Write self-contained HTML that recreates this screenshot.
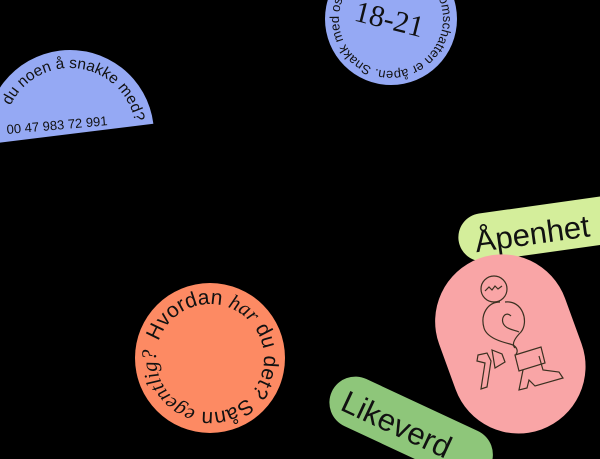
<!DOCTYPE html>
<html><head><meta charset="utf-8"><style>
html,body{margin:0;padding:0;background:#000;width:600px;height:459px;overflow:hidden}
svg{display:block}
text{font-family:"Liberation Sans",sans-serif;fill:#111}
</style></head><body>
<svg width="600" height="459" viewBox="0 0 600 459">
<defs>
<path id="semi" d="M 4,134 A 66 66 0 0 1 136,134"/>
<path id="blueC" d="M 391,-33 A 52 52 0 1 1 390.9,-33"/>
<path id="orC" d="M 210,304 A 54 54 0 1 1 209.9,304"/>
</defs>
<!-- semicircle -->
<g transform="rotate(-7 70 134)">
<path d="M -14,134 A 84 84 0 0 1 154,134 Z" fill="#95a9f4"/>
<text font-size="15.5" text-anchor="end"><textPath href="#semi" startOffset="98%">du noen å snakke med?</textPath></text>
</g>
<text x="7" y="134" font-size="13" transform="rotate(-5 7 134)">00 47 983 72 991</text>
<!-- blue circle -->
<circle cx="391" cy="19" r="66" fill="#95a9f4"/>
<g transform="rotate(32 391 19)">
<text font-size="13"><textPath href="#blueC" startOffset="0">Ungdomschatten er åpen. Snakk med oss</textPath></text>
</g>
<text x="354" y="28" font-size="30" transform="rotate(14 385 20)" style="font-family:'Liberation Serif',serif">18-21</text>
<!-- orange circle -->
<circle cx="210" cy="358" r="75" fill="#fd8a63"/>
<g transform="rotate(-72 210 358)">
<text font-size="21"><textPath href="#orC" startOffset="0">Hvordan <tspan font-style="italic" style="font-family:'Liberation Serif',serif">har</tspan> du det? Sånn <tspan style="font-family:'Liberation Serif',serif" font-style="italic">egentlig?</tspan></textPath></text>
</g>
<!-- Åpenhet pill -->
<g transform="rotate(-8 520 232)">
<rect x="458" y="208" width="180" height="48" rx="24" fill="#d4ee9b"/>
<text x="474" y="246" font-size="31">Åpenhet</text>
</g>
<!-- pink pill -->
<g transform="rotate(-20 510 343)">
<rect x="443" y="253" width="134" height="182" rx="67" fill="#f9a5a6"/>
</g>
<g fill="none" stroke="#3a3020" stroke-width="1.2">
<circle cx="494" cy="289" r="13"/>
<path d="M485,291 l4,-4 l3,3 l3,-4 l3,3 l4,-3"/>
<path d="M500,302 c-12,0 -20,12 -16,26 c3,10 18,14 26,16 c8,2 8,8 6,10"/>
<path d="M505,302 c18,-2 24,20 16,30 c-6,6 -10,12 -6,16"/>
<path d="M511,316 c-6,-6 -12,4 -6,10 c4,4 10,4 14,6"/>
<path d="M478,355 l9,-2 l4,8 l-4,26 l-6,2 l4,-26 l-8,-2 z"/>
<path d="M492,350 l10,4 l3,8 l-10,6 z"/>
<path d="M515,355 l26,-8 l4,16 l-26,8 z"/>
<path d="M523,370 l-4,20 l8,-2 l2,-8 l6,6 l28,-8 l-4,-6 l-16,-2 l-4,-14"/>
</g>
<!-- Likeverd pill -->
<g transform="rotate(25 400 430)">
<rect x="322" y="398" width="175" height="52" rx="26" fill="#8ec67a"/>
<text x="336" y="437" font-size="31">Likeverd</text>
</g>
</svg>
</body></html>
